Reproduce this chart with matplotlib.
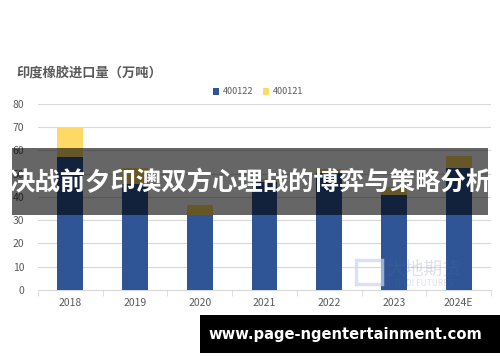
import matplotlib
matplotlib.use("Agg")
import matplotlib.pyplot as plt
import numpy as np
from matplotlib.patches import Rectangle

plt.rcParams['font.family'] = ['Noto Sans CJK SC', 'DejaVu Sans']

years = ["2018", "2019", "2020", "2021", "2022", "2023", "2024E"]
s400122 = [57.3, 45.5, 32.3, 46.5, 50.2, 40.9, 52.6]
s400121 = [12.2, 7.1, 4.3, 1.3, 1.8, 3.5, 4.9]
title = "印度橡胶进口量（万吨）"
banner = "决战前夕印澳双方心理战的博弈与策略分析"
site = "www.page-ngentertainment.com"

fig = plt.figure(figsize=(5, 3.62), dpi=100)
ax = fig.add_axes([0.076, 0.199, 0.906, 0.5138])
x = np.arange(len(years))
ax.bar(x, s400122, width=0.4, color="#2F5597", label="400122", zorder=3)
ax.bar(x, s400121, width=0.4, bottom=s400122, color="#FFD966", label="400121", zorder=3)
ax.set_ylim(0, 80)
ax.set_xlim(-0.5, len(years) - 0.5)
ax.set_yticks(range(0, 81, 10))
ax.yaxis.grid(True, color="#D9D9D9", linewidth=0.8, zorder=0)
ax.set_axisbelow(True)
for s in ["top", "right", "left"]:
    ax.spines[s].set_visible(False)
ax.spines["bottom"].set_color("#D9D9D9")
ax.set_xticks(x)
ax.set_xticklabels(years)
ax.set_xticks(np.arange(-0.5, len(years), 1.0), minor=True)
ax.tick_params(axis="x", which="major", length=0, labelsize=7.5, labelcolor="#595959", pad=6)
ax.tick_params(axis="x", which="minor", length=4, color="#D9D9D9")
ax.tick_params(axis="y", length=0, labelsize=7.5, labelcolor="#595959", pad=10)

fig.text(16/500, 1 - 73/362, title, fontsize=9.5, fontweight="bold", color="#595959", va="center", ha="left")
leg = fig.legend(loc="center", bbox_to_anchor=(258/500, 1 - 92/362), ncol=2, frameon=False,
                 fontsize=6.5, handlelength=0.7, handleheight=0.7, columnspacing=1.0, handletextpad=0.4)
for t in leg.get_texts():
    t.set_color("#595959")

# faint watermark
fig.text(424/500, 1 - 269/362, "大地期货", fontsize=13.5, color="#5B6B8C", alpha=0.2, ha="center", va="center")
fig.text(424/500, 1 - 283/362, "DADI FUTURES", fontsize=6, color="#5B6B8C", alpha=0.2, ha="center", va="center")
fig.patches.append(Rectangle((356/500, 1 - 284/362), 26/500, 24/362, transform=fig.transFigure,
                             facecolor="none", edgecolor="#C9D6EA", linewidth=2.5, alpha=0.7, zorder=1))

# banner
fig.patches.append(Rectangle((12/500, 1 - 215/362), 476/500, 67/362, transform=fig.transFigure,
                             facecolor="black", alpha=0.6, edgecolor="none", zorder=10))
fig.text(250/500, 1 - 183/362, banner, fontsize=18.3, fontweight="bold", color="white",
         ha="center", va="center", zorder=11)

# bottom site box
fig.patches.append(Rectangle((200/500, 1 - 353/362), 300/500, 38/362, transform=fig.transFigure,
                             facecolor="black", edgecolor="none", zorder=10))
fig.text(345/500, 1 - 334/362, site, fontsize=10.6, fontweight="bold", color="white",
         ha="center", va="center", zorder=11, family="DejaVu Sans")

fig.savefig("out.png", dpi=100)
